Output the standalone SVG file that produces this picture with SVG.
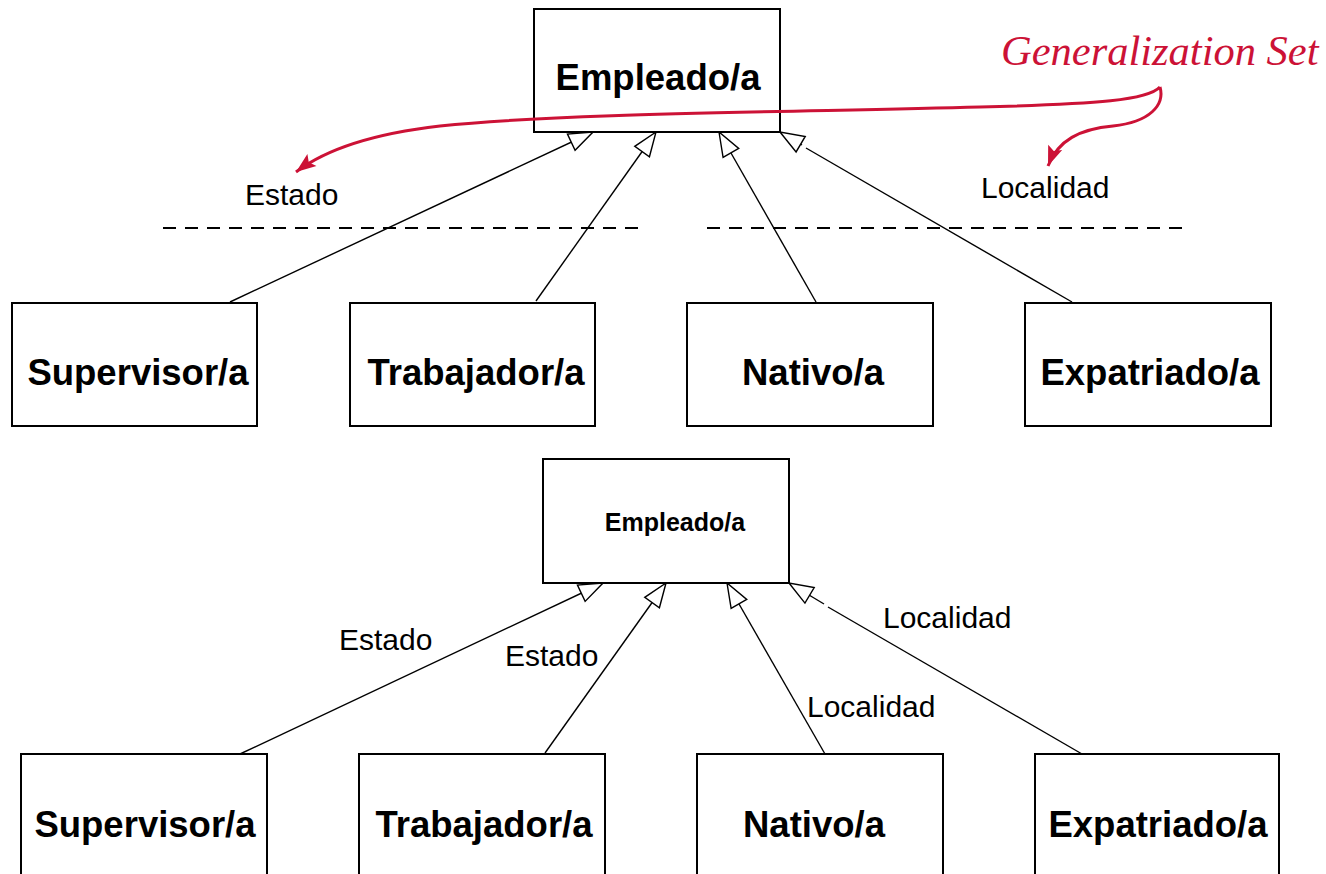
<svg xmlns="http://www.w3.org/2000/svg" width="1326" height="874" viewBox="0 0 1326 874">
<defs>
<style>
.box{fill:#fff;stroke:#000;stroke-width:2}
.bt{font-family:"Liberation Sans",Arial,sans-serif;font-weight:bold;font-size:36.5px;text-anchor:middle;fill:#000}
.bts{font-family:"Liberation Sans",Arial,sans-serif;font-weight:bold;font-size:25px;text-anchor:middle;fill:#000}
.lbl{font-family:"Liberation Sans",Arial,sans-serif;font-size:30px;fill:#000}
.gen{fill:none;stroke:#000;stroke-width:1.4}
.dash{fill:none;stroke:#000;stroke-width:2;stroke-dasharray:13 9}
.red{fill:none;stroke:#CC1236;stroke-width:3}
.gs{font-family:"Liberation Serif","Times New Roman",serif;font-style:italic;font-size:42.5px;fill:#CC1236}
</style>
<marker id="tri" markerUnits="userSpaceOnUse" markerWidth="30" markerHeight="24" viewBox="-26 -12 30 24" refX="0" refY="0" orient="auto">
<path d="M0,0 L-24,-9 L-24,9 Z" fill="#fff" stroke="#000" stroke-width="1.4"/>
</marker>
<marker id="redarrow" markerUnits="userSpaceOnUse" markerWidth="24" markerHeight="20" viewBox="-22 -10 24 20" refX="0" refY="0" orient="auto">
<path d="M0,0 L-20,-7.5 L-16,0 L-20,7.5 Z" fill="#CC1236"/>
</marker>
</defs>

<g id="connectors">
<!-- top diagram -->
<line class="gen" x1="230" y1="302" x2="593" y2="132" marker-end="url(#tri)"/>
<line class="gen" x1="536" y1="301" x2="656" y2="132" marker-end="url(#tri)"/>
<line class="gen" x1="816" y1="302" x2="719" y2="132" marker-end="url(#tri)"/>
<line class="gen" x1="1072" y1="302" x2="806" y2="148"/>
<line class="gen" x1="802" y1="145" x2="780" y2="132" marker-end="url(#tri)"/>
<line class="dash" x1="163" y1="228" x2="641" y2="228"/>
<line class="dash" x1="707" y1="228" x2="1185" y2="228"/>
<!-- bottom diagram -->
<line class="gen" x1="240" y1="754" x2="603" y2="583" marker-end="url(#tri)"/>
<line class="gen" x1="545" y1="753" x2="666" y2="583" marker-end="url(#tri)"/>
<line class="gen" x1="825" y1="754" x2="727" y2="583" marker-end="url(#tri)"/>
<line class="gen" x1="1082" y1="754" x2="828" y2="607"/>
<line class="gen" x1="824" y1="604" x2="789" y2="583" marker-end="url(#tri)"/>
</g>

<g id="empleado-top"><rect class="box" x="534" y="9" width="246" height="123"/><text class="bt" x="658" y="90">Empleado/a</text></g>
<g id="supervisor-top"><rect class="box" x="12" y="303" width="245" height="123"/><text class="bt" x="138" y="385">Supervisor/a</text></g>
<g id="trabajador-top"><rect class="box" x="350" y="303" width="245" height="123"/><text class="bt" x="476" y="385">Trabajador/a</text></g>
<g id="nativo-top"><rect class="box" x="687" y="303" width="246" height="123"/><text class="bt" x="813" y="385">Nativo/a</text></g>
<g id="expatriado-top"><rect class="box" x="1025" y="303" width="246" height="123"/><text class="bt" x="1150" y="385">Expatriado/a</text></g>

<g id="labels-top">
<text class="lbl" x="245" y="205">Estado</text>
<text class="lbl" x="981" y="198">Localidad</text>
</g>

<g id="generalization-set">
<text class="gs" x="1001" y="65">Generalization Set</text>
<path class="red" d="M1160,87 C1148,100 1100,104 980,107 C800,112 560,113 440,126 C370,134 325,150 296,172" marker-end="url(#redarrow)"/>
<path class="red" d="M1160,87 C1165,105 1150,122 1113,126 C1080,129 1058,140 1048,166" marker-end="url(#redarrow)"/>
</g>

<g id="empleado-bottom"><rect class="box" x="543" y="459" width="246" height="124"/><text class="bts" x="675" y="531">Empleado/a</text></g>
<g id="supervisor-bottom"><rect class="box" x="21" y="754" width="246" height="140"/><text class="bt" x="145" y="837">Supervisor/a</text></g>
<g id="trabajador-bottom"><rect class="box" x="359" y="754" width="246" height="140"/><text class="bt" x="484" y="837">Trabajador/a</text></g>
<g id="nativo-bottom"><rect class="box" x="697" y="754" width="246" height="140"/><text class="bt" x="814" y="837">Nativo/a</text></g>
<g id="expatriado-bottom"><rect class="box" x="1035" y="754" width="244" height="140"/><text class="bt" x="1158" y="837">Expatriado/a</text></g>

<g id="labels-bottom">
<text class="lbl" x="339" y="650">Estado</text>
<text class="lbl" x="505" y="666">Estado</text>
<text class="lbl" x="883" y="628">Localidad</text>
<text class="lbl" x="807" y="717">Localidad</text>
</g>
</svg>
